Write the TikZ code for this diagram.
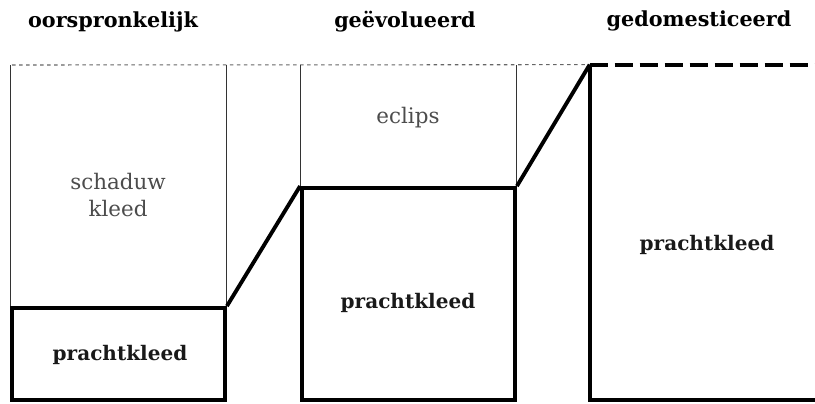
\documentclass[tikz,border=0pt]{standalone}
\usepackage{fontspec}
\setmainfont{DejaVu Serif}
\usetikzlibrary{positioning}

\begin{document}
\begin{tikzpicture}[
    x=0.02cm, y=-0.02cm,
    box/.style={
        draw=black,
        line width=2.2pt,
        minimum width=4.26cm,
        inner sep=0pt
    },
    title/.style={
        font=\fontsize{11.8}{14}\selectfont\bfseries,
        text=black
    },
    label/.style={
        font=\fontsize{11.4}{13}\selectfont\bfseries,
        text=black!90
    },
    phase/.style={
        font=\fontsize{12.2}{15}\selectfont,
        text=black!70,
        align=center
    },
    guide/.style={
        draw=black!80,
        line width=0.5pt
    },
    slope/.style={
        draw=black,
        line width=2.2pt
    }
]
\useasboundingbox (0,0) rectangle (815,403);

% Top line
\coordinate (top) at (12,65);

% Nodes
\node (orig) [box, minimum height=1.84cm] at (118.5,354) {};
\node (evol) [box, minimum height=4.24cm] at (408.5,294) {};
\node (dom) [inner sep=0pt, minimum width=4.5cm, minimum height=6.7cm] at (702.5,232.5) {};

\node (t1) [title] at (113,22) {oorspronkelijk};
\node (t2) [title] at (405,22) {geëvolueerd};
\node (t3) [title] at (699,21) {gedomesticeerd};

\node (shadow) [phase] at (118,195) {schaduw\\kleed};
\node (eclips) [phase] at (408,118) {eclips};

\node (p1) [label] at (120,355) {prachtkleed};
\node (p2) [label] at (408,303) {prachtkleed};
\node (p3) [label] at (707,245) {prachtkleed};

% Paths
\draw [guide, draw=black!60, line width=0.6pt, dash pattern=on 2pt off 2pt] (top) -- (dom.north west);
\draw [guide] (orig.north west) -- (orig.north west |- top);
\draw [guide] (orig.north east) -- (orig.north east |- top);
\draw [guide] (evol.north west) -- (evol.north west |- top);
\draw [guide] (evol.north east) -- (evol.north east |- top);
\draw [slope] (orig.north east) -- (evol.north west);
\draw [slope] (evol.north east) -- (dom.north west);
\draw [slope] (dom.north west) -- (dom.south west) -- (dom.south east);
\draw [slope, dash pattern=on 0.36cm off 0.14cm] (dom.north west) -- (dom.north east);

\end{tikzpicture}
\end{document}
